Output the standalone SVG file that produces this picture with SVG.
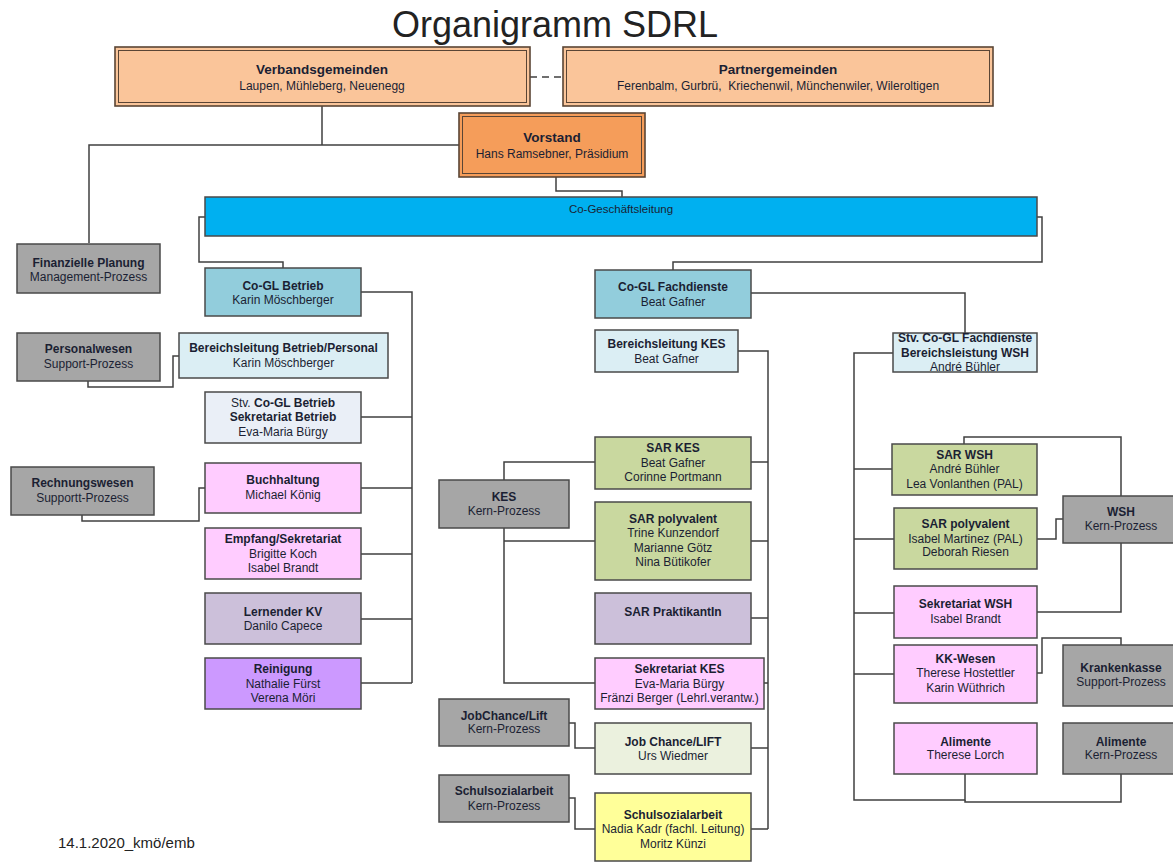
<svg xmlns="http://www.w3.org/2000/svg" width="1173" height="863" viewBox="0 0 1173 863">
<style>
text{font-family:"Liberation Sans",Arial,sans-serif;text-anchor:middle;fill:#1b1f33}
.b{font-weight:bold;font-size:12px}
.r{font-size:12px}
.tb{font-weight:bold;font-size:13.5px}
.box{stroke:#4a4a4a;stroke-width:1.5}
.top{stroke:#5a4535;stroke-width:1.6}
.inner{fill:none;stroke:#5a4535;stroke-width:1}
.gray{fill:#a6a6a6}
.pink{fill:#ffccff}
.green{fill:#c9d89f}
.lblue{fill:#dbeef4}
.mblue{fill:#92cddc}
.lila{fill:#ccc0da}
.conn{fill:none;stroke:#404040;stroke-width:1.5}
</style>
<rect width="1173" height="863" fill="#ffffff"/>
<text x="555" y="37" style="font-size:36px;fill:#222">Organigramm SDRL</text>
<text x="58" y="848" style="font-size:15px;text-anchor:start;fill:#222">14.1.2020_kmö/emb</text>

<g id="connectors">
<path class="conn" d="M322,106 V145 M89,243 V145 H459"/>
<path class="conn" d="M530,77 H563" stroke-dasharray="7,5"/>
<path class="conn" d="M556,177 V191 H622 V197"/>
<path class="conn" d="M205,217 H199 V262 H283 V268"/>
<path class="conn" d="M1037,217 H1042 V262 H673 V270"/>
<path class="conn" d="M361,292 H412 V683 M361,417 H412 M361,488 H412 M361,554 H412 M361,619 H412 M361,683 H412"/>
<path class="conn" d="M88,381 V387 H173 V356 H179"/>
<path class="conn" d="M82,515 V521 H199 V488 H205"/>
<path class="conn" d="M751,293 H965 V333"/>
<path class="conn" d="M738,351 H768 V829 M751,462 H768 M751,541 H768 M751,618 H768 M764,683 H768 M751,748 H768 M751,829 H768"/>
<path class="conn" d="M595,462 H504 V480 M504,528 V683 H595 M504,541 H595"/>
<path class="conn" d="M569,723 H575 V748 H595"/>
<path class="conn" d="M569,798 H575 V829 H595"/>
<path class="conn" d="M893,353 H854 V800 H965 V774 M854,469 H892 M854,539 H894 M854,613 H894 M854,674 H894"/>
<path class="conn" d="M965,800 V802 H1121 V774"/>
<path class="conn" d="M964,444 V437 H1121 V496"/>
<path class="conn" d="M1037,539 H1056 V519 H1063"/>
<path class="conn" d="M1037,612 H1121 V543"/>
<path class="conn" d="M1037,673 H1042 V638 H1121 V645"/>
</g>

<g id="verbandsgemeinden">
<rect class="top" x="115" y="47" width="415" height="59" fill="#fac59a"/>
<rect class="inner" x="118.5" y="50.5" width="408" height="52"/>
<text class="tb" x="322" y="74">Verbandsgemeinden</text>
<text class="r" x="322" y="90">Laupen, Mühleberg, Neuenegg</text>
</g>
<g id="partnergemeinden">
<rect class="top" x="563" y="47" width="430" height="59" fill="#fac59a"/>
<rect class="inner" x="566.5" y="50.5" width="423" height="52"/>
<text class="tb" x="778" y="74">Partnergemeinden</text>
<text class="r" x="778" y="90" xml:space="preserve">Ferenbalm, Gurbrü,  Kriechenwil, Münchenwiler, Wileroltigen</text>
</g>
<g id="vorstand">
<rect class="top" x="459" y="113" width="186" height="64" fill="#f59d5a"/>
<rect class="inner" x="462.5" y="116.5" width="179" height="57"/>
<text class="tb" x="552" y="142">Vorstand</text>
<text class="r" x="552" y="158">Hans Ramsebner, Präsidium</text>
</g>
<g id="co-geschaeftsleitung">
<rect class="box" x="205" y="197" width="832" height="39" fill="#00b0f0"/>
<text x="621" y="213" style="font-size:11.5px">Co-Geschäftsleitung</text>
</g>

<g id="finanzielle-planung">
<rect class="box gray" x="17" y="244" width="143" height="49"/>
<text class="b" x="88.5" y="267">Finanzielle Planung</text>
<text class="r" x="88.5" y="281">Management-Prozess</text>
</g>
<g id="co-gl-betrieb">
<rect class="box mblue" x="205" y="268" width="156" height="48"/>
<text class="b" x="283" y="290">Co-GL Betrieb</text>
<text class="r" x="283" y="304">Karin Möschberger</text>
</g>
<g id="personalwesen">
<rect class="box gray" x="17" y="333" width="143" height="48"/>
<text class="b" x="88.5" y="353">Personalwesen</text>
<text class="r" x="88.5" y="368">Support-Prozess</text>
</g>
<g id="bereichsleitung-betrieb">
<rect class="box lblue" x="179" y="333" width="209" height="45"/>
<text class="b" x="283.5" y="352">Bereichsleitung Betrieb/Personal</text>
<text class="r" x="283.5" y="367">Karin Möschberger</text>
</g>
<g id="stv-co-gl-betrieb">
<rect class="box" x="205" y="392" width="156" height="51" fill="#eaeff7"/>
<text class="b" x="283" y="407"><tspan font-weight="normal">Stv.</tspan> Co-GL Betrieb</text>
<text class="b" x="283" y="421">Sekretariat Betrieb</text>
<text class="r" x="283" y="436">Eva-Maria Bürgy</text>
</g>
<g id="rechnungswesen">
<rect class="box gray" x="11" y="467" width="143" height="48"/>
<text class="b" x="82.5" y="487">Rechnungswesen</text>
<text class="r" x="82.5" y="502">Supportt-Prozess</text>
</g>
<g id="buchhaltung">
<rect class="box pink" x="205" y="463" width="156" height="50"/>
<text class="b" x="283" y="484">Buchhaltung</text>
<text class="r" x="283" y="499">Michael König</text>
</g>
<g id="empfang">
<rect class="box pink" x="205" y="528" width="156" height="51"/>
<text class="b" x="283" y="543">Empfang/Sekretariat</text>
<text class="r" x="283" y="558">Brigitte Koch</text>
<text class="r" x="283" y="572">Isabel Brandt</text>
</g>
<g id="lernender-kv">
<rect class="box lila" x="205" y="593" width="156" height="51"/>
<text class="b" x="283" y="616">Lernender KV</text>
<text class="r" x="283" y="630">Danilo Capece</text>
</g>
<g id="reinigung">
<rect class="box" x="205" y="658" width="156" height="51" fill="#cc99ff"/>
<text class="b" x="283" y="673">Reinigung</text>
<text class="r" x="283" y="688">Nathalie Fürst</text>
<text class="r" x="283" y="702">Verena Möri</text>
</g>

<g id="co-gl-fachdienste">
<rect class="box mblue" x="595" y="270" width="156" height="48"/>
<text class="b" x="673" y="291">Co-GL Fachdienste</text>
<text class="r" x="673" y="306">Beat Gafner</text>
</g>
<g id="bereichsleitung-kes">
<rect class="box lblue" x="595" y="330" width="143" height="42"/>
<text class="b" x="666.5" y="348">Bereichsleitung KES</text>
<text class="r" x="666.5" y="363">Beat Gafner</text>
</g>
<g id="sar-kes">
<rect class="box green" x="595" y="437" width="156" height="52"/>
<text class="b" x="673" y="452">SAR KES</text>
<text class="r" x="673" y="467">Beat Gafner</text>
<text class="r" x="673" y="481">Corinne Portmann</text>
</g>
<g id="kes">
<rect class="box gray" x="439" y="480" width="130" height="48"/>
<text class="b" x="504" y="501">KES</text>
<text class="r" x="504" y="515">Kern-Prozess</text>
</g>
<g id="sar-polyvalent-kes">
<rect class="box green" x="595" y="502" width="156" height="78"/>
<text class="b" x="673" y="523">SAR polyvalent</text>
<text class="r" x="673" y="537">Trine Kunzendorf</text>
<text class="r" x="673" y="552">Marianne Götz</text>
<text class="r" x="673" y="566">Nina Bütikofer</text>
</g>
<g id="sar-praktikantin">
<rect class="box lila" x="595" y="593" width="156" height="51"/>
<text class="b" x="673" y="616">SAR PraktikantIn</text>
</g>
<g id="sekretariat-kes">
<rect class="box pink" x="595" y="658" width="169" height="51"/>
<text class="b" x="679.5" y="673">Sekretariat KES</text>
<text class="r" x="679.5" y="688">Eva-Maria Bürgy</text>
<text class="r" x="679.5" y="702">Fränzi Berger (Lehrl.verantw.)</text>
</g>
<g id="jobchance-prozess">
<rect class="box gray" x="439" y="699" width="130" height="47"/>
<text class="b" x="504" y="720">JobChance/Lift</text>
<text class="r" x="504" y="733">Kern-Prozess</text>
</g>
<g id="job-chance-lift">
<rect class="box" x="595" y="723" width="156" height="51" fill="#ebf1de"/>
<text class="b" x="673" y="746">Job Chance/LIFT</text>
<text class="r" x="673" y="760">Urs Wiedmer</text>
</g>
<g id="schulsozialarbeit-prozess">
<rect class="box gray" x="439" y="775" width="130" height="47"/>
<text class="b" x="504" y="795">Schulsozialarbeit</text>
<text class="r" x="504" y="810">Kern-Prozess</text>
</g>
<g id="schulsozialarbeit">
<rect class="box" x="595" y="793" width="156" height="68" fill="#ffff99"/>
<text class="b" x="673" y="819">Schulsozialarbeit</text>
<text class="r" x="673" y="833">Nadia Kadr (fachl. Leitung)</text>
<text class="r" x="673" y="848">Moritz Künzi</text>
</g>

<g id="stv-co-gl-fachdienste">
<rect class="box lblue" x="893" y="333" width="144" height="39"/>
<text class="b" x="965" y="342">Stv. Co-GL Fachdienste</text>
<text class="b" x="965" y="357">Bereichsleistung WSH</text>
<text class="r" x="965" y="371">André Bühler</text>
</g>
<g id="sar-wsh">
<rect class="box green" x="892" y="444" width="145" height="51"/>
<text class="b" x="964.5" y="459">SAR WSH</text>
<text class="r" x="964.5" y="473">André Bühler</text>
<text class="r" x="964.5" y="488">Lea Vonlanthen (PAL)</text>
</g>
<g id="wsh">
<rect class="box gray" x="1063" y="496" width="120" height="47"/>
<text class="b" x="1121" y="516">WSH</text>
<text class="r" x="1121" y="530">Kern-Prozess</text>
</g>
<g id="sar-polyvalent-wsh">
<rect class="box green" x="894" y="508" width="143" height="61"/>
<text class="b" x="965.5" y="528">SAR polyvalent</text>
<text class="r" x="965.5" y="543">Isabel Martinez (PAL)</text>
<text class="r" x="965.5" y="556">Deborah Riesen</text>
</g>
<g id="sekretariat-wsh">
<rect class="box pink" x="894" y="586" width="143" height="52"/>
<text class="b" x="965.5" y="608">Sekretariat WSH</text>
<text class="r" x="965.5" y="623">Isabel Brandt</text>
</g>
<g id="kk-wesen">
<rect class="box pink" x="894" y="645" width="143" height="58"/>
<text class="b" x="965.5" y="663">KK-Wesen</text>
<text class="r" x="965.5" y="677">Therese Hostettler</text>
<text class="r" x="965.5" y="692">Karin Wüthrich</text>
</g>
<g id="krankenkasse">
<rect class="box gray" x="1063" y="645" width="120" height="61"/>
<text class="b" x="1121" y="672">Krankenkasse</text>
<text class="r" x="1121" y="686">Support-Prozess</text>
</g>
<g id="alimente">
<rect class="box pink" x="894" y="723" width="143" height="51"/>
<text class="b" x="965.5" y="746">Alimente</text>
<text class="r" x="965.5" y="759">Therese Lorch</text>
</g>
<g id="alimente-prozess">
<rect class="box gray" x="1063" y="723" width="120" height="51"/>
<text class="b" x="1121" y="746">Alimente</text>
<text class="r" x="1121" y="759">Kern-Prozess</text>
</g>
</svg>
